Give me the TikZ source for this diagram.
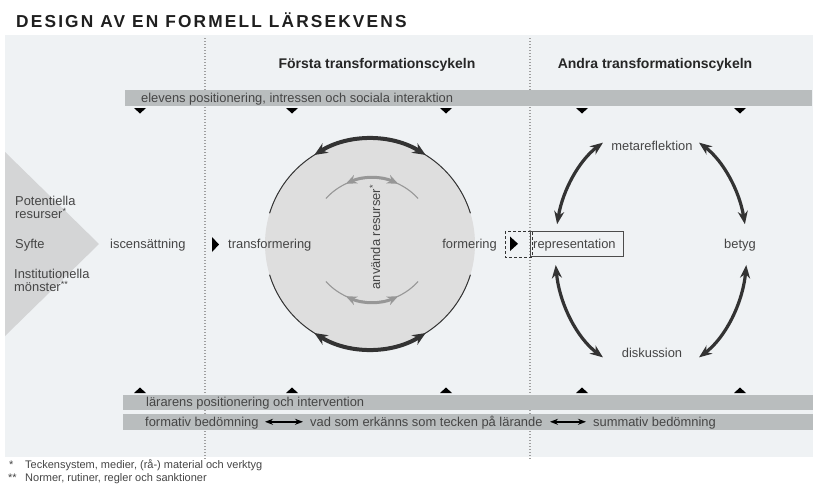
\documentclass[tikz,border=0pt]{standalone}
\usepackage{fontspec}
\setmainfont{Liberation Sans}
\usetikzlibrary{arrows.meta}
\definecolor{panel}{HTML}{EFF2F4}
\definecolor{barc}{HTML}{B9BDBE}
\definecolor{txt}{HTML}{454545}
\definecolor{tric}{HTML}{D4D5D6}
\definecolor{circc}{HTML}{DEDEDE}
\definecolor{darkc}{HTML}{333333}
\definecolor{lgrey}{HTML}{979797}
\begin{document}
\begin{tikzpicture}[x=1pt,y=-1pt,
  lbl/.style={font=\fontsize{12.9}{14}\selectfont, text=txt, inner sep=0pt, anchor=base west},
  hdr/.style={font=\fontsize{14}{16}\selectfont\bfseries, text=black!85, inner sep=0pt, anchor=base},
  fnote/.style={font=\fontsize{11}{12}\selectfont, text=txt, inner sep=0pt, anchor=base west},
  dotline/.style={draw=gray!75, line width=1.3pt, dash pattern=on 1.3pt off 1.7pt},
  barbox/.style={fill=barc},
  dtri/.style={fill=black},
  thickarc/.style={draw=darkc, line width=4pt, {Stealth[length=13pt,width=11pt]}-{Stealth[length=13pt,width=11pt]}},
  thinarc/.style={draw=darkc, line width=1pt},
  gthick/.style={draw=lgrey, line width=3pt, {Stealth[length=11pt,width=9pt]}-{Stealth[length=11pt,width=9pt]}},
  gthin/.style={draw=lgrey, line width=1.1pt},
  ellarr/.style={draw=darkc, line width=3.2pt, {Stealth[length=13pt,width=10pt]}-{Stealth[length=13pt,width=10pt]}},
  smallarr/.style={draw=black, line width=1.5pt, {Stealth[length=8pt,width=6pt]}-{Stealth[length=8pt,width=6pt]}}
]
\useasboundingbox (0,0) rectangle (817,490);
\fill[white] (0,0) rectangle (817,490);
\fill[panel] (5,35) rectangle (813,457);

% title
\node[inner sep=0pt, anchor=base west, text=black!88,
  font=\fontsize{17.3}{18}\selectfont\bfseries\addfontfeature{LetterSpace=12.5}] (title) at (16,27) {DESIGN AV EN FORMELL LÄRSEKVENS};

% left triangle
\fill[tric] (5,152) -- (99,244) -- (5,336) -- cycle;

% dotted lines
\draw[dotline] (205,38) -- (205,460);
\draw[dotline] (530,38) -- (530,460);

% headers
\node[hdr] (h1) at (377,68.5) {Första transformationscykeln};
\node[hdr] (h2) at (655,68.5) {Andra transformationscykeln};

% top bar
\fill[barbox] (125,90) rectangle (812,106);
\node[lbl] (elev) at (141,102.5) {elevens positionering, intressen och sociala interaktion};
\foreach \x in {140,292,446,582,740}{
  \fill[dtri] (\x-6,108) -- (\x+6,108) -- (\x,113.5) -- cycle;
  \fill[dtri] (\x-6,393) -- (\x+6,393) -- (\x,387.5) -- cycle;
}

% bottom bars
\fill[barbox] (123,395) rectangle (813,410);
\fill[barbox] (123,414) rectangle (813,430);
\node[lbl] (larare) at (146,406.7) {lärarens positionering och intervention};
\node[lbl] (formativ) at (145,426.5) {formativ bedömning};
\node[lbl] (vad) at (310,426.5) {vad som erkänns som tecken på lärande};
\node[lbl] (summ) at (593,426.5) {summativ bedömning};
\coordinate (a1) at (265,421.8);
\coordinate (a2) at (303,421.8);
\coordinate (a3) at (550,421.8);
\coordinate (a4) at (586,421.8);
\draw[smallarr] (a1) -- (a2);
\draw[smallarr] (a3) -- (a4);

% circle (drawn before its labels)
\fill[circc] (370,244) circle[radius=105];
\draw[thinarc] (370,244) ++(197:105) arc[start angle=197, end angle=343, radius=105];
\draw[thinarc] (370,244) ++(17:105) arc[start angle=17, end angle=163, radius=105];
\draw[thickarc] (370,244) ++(302:105) arc[start angle=302, end angle=238, radius=105];
\draw[thickarc] (370,244) ++(58:105) arc[start angle=58, end angle=122, radius=105];

% inner grey arcs
\draw[gthin] (372,240) ++(222:62) arc[start angle=222, end angle=318, radius=62];
\draw[gthin] (372,240) ++(42:62) arc[start angle=42, end angle=138, radius=62];
\draw[gthick] (372,240) ++(295:62) arc[start angle=295, end angle=245, radius=62];
\draw[gthick] (372,240) ++(65:62) arc[start angle=65, end angle=115, radius=62];

% left labels
\node[lbl, align=left, font=\fontsize{12.9}{12.6}\selectfont] (pot) at (15,218.5) {Potentiella\\resurser\textsuperscript{*}};
\node[lbl] (syfte) at (15,248) {Syfte};
\node[lbl, align=left, font=\fontsize{12.9}{12.6}\selectfont] (inst) at (14,291.5) {Institutionella\\mönster\textsuperscript{**}};

\node[lbl] (isc) at (110,248) {iscensättning};
\fill[black] (212,237) -- (219,244.5) -- (212,252) -- cycle;
\node[lbl] (transf) at (228,248) {transformering};

\node[font=\fontsize{12.9}{14}\selectfont, text=txt, inner sep=0pt, rotate=90] (anv) at (375,237) {använda resurser\textsuperscript{*}};

\node[lbl, anchor=base east] (form) at (497,248) {formering};

% dashed box and representation
\draw[black!80, line width=1pt, dash pattern=on 3pt off 2pt] (505,231) rectangle (532,257);
\fill[black] (510,236.5) -- (518,243.8) -- (510,251) -- cycle;
\draw[gray!60!black, line width=0.7pt] (530,231) rectangle (623,256);
\node[lbl] (repr) at (533,248) {representation};

% right cycle
\node[lbl, anchor=base] (meta) at (652,150) {metareflektion};
\node[lbl, anchor=base] (betyg) at (740,248) {betyg};
\node[lbl, anchor=base] (disk) at (652,357.5) {diskussion};
\draw[ellarr] (651,250) ++(-120:96 and 124) arc[start angle=-120, end angle=-168, x radius=96, y radius=124];
\draw[ellarr] (651,250) ++(-60:96 and 124) arc[start angle=-60, end angle=-12, x radius=96, y radius=124];
\draw[ellarr] (651,250) ++(-187:96 and 124) arc[start angle=-187, end angle=-240, x radius=96, y radius=124];
\draw[ellarr] (651,250) ++(-353:96 and 124) arc[start angle=-353, end angle=-300, x radius=96, y radius=124];

% footnotes
\node[fnote] (fn1s) at (9,468) {*};
\node[fnote] (fn1) at (25,468) {Teckensystem, medier, (rå-) material och verktyg};
\node[fnote] (fn2s) at (8,481.5) {**};
\node[fnote] (fn2) at (25,481.5) {Normer, rutiner, regler och sanktioner};
\end{tikzpicture}
\end{document}
